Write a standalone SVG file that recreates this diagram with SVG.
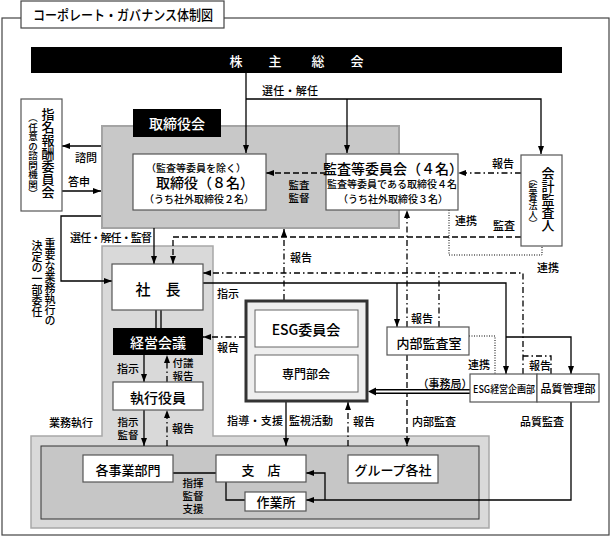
<svg xmlns="http://www.w3.org/2000/svg" width="611" height="537" viewBox="0 0 611 537">
<defs>
<style>
text{font-family:"Noto Sans CJK JP","Noto Sans CJK SC",sans-serif;font-weight:500;fill:#000;text-anchor:middle;dominant-baseline:central}
.w{fill:#fff}
.l{font-size:11px}
.k{font-size:10.5px}
.m{font-size:13px}
.b{font-size:14px}
.v{writing-mode:vertical-rl;text-anchor:start}
.box{fill:#fff;stroke:#555;stroke-width:1.2}
.blk{fill:#000}
.c{fill:none;stroke:#000;stroke-width:1.3}
.dash{stroke-dasharray:6 3}
.dd{stroke-dasharray:6 3 1.5 3}
.dot{stroke-width:1;stroke-dasharray:1 1.5}
</style>
<marker id="a" viewBox="0 0 8 6" refX="8" refY="3" markerWidth="8" markerHeight="6" markerUnits="userSpaceOnUse" orient="auto" preserveAspectRatio="none"><path d="M0,0 L8,3 L0,6 z" fill="#000"/></marker>
</defs>
<g id="frame">
<rect x="2" y="18" width="607" height="517" fill="#fff" stroke="#444" stroke-width="1.2"/>
<rect x="21" y="1" width="203" height="27" fill="#fff" stroke="#444" stroke-width="1.2"/>
<text x="123" y="14" style="font-size:14px" textLength="180" lengthAdjust="spacingAndGlyphs">コーポレート・ガバナンス体制図</text>
</g>
<g id="areas">
<rect x="102" y="126" width="297" height="102" fill="#c8c8c8" stroke="#a4a4a4" stroke-width="2"/>
<path d="M102,246 H213 V436 H489 V528 H31 V436 H102 Z" fill="#d9d9d9" stroke="#a8a8a8" stroke-width="1.5"/>
<rect x="41" y="446" width="438" height="73" fill="#c6c6c6" stroke="#333" stroke-width="1"/>
</g>
<g id="connectors">
<path class="c" d="M246,73 V153" marker-end="url(#a)"/>
<path class="c" d="M246,99 H541 V154" marker-end="url(#a)"/>
<path class="c" d="M347,99 V153" marker-end="url(#a)"/>
<path class="c" d="M101,146 H62" marker-end="url(#a)"/>
<path class="c" d="M62,191 H101" marker-end="url(#a)"/>
<path class="c dash" d="M326,173 H266" marker-end="url(#a)"/>
<path class="c dd" d="M521,173 H458" marker-end="url(#a)"/>
<path class="c" d="M101,216 H61 V281 H112" marker-end="url(#a)"/>
<path class="c" d="M154,228 V264" marker-end="url(#a)"/>
<path class="c dash" d="M521,237 H173 V264" marker-end="url(#a)"/>
<path class="c dd" d="M284,300 V229" marker-end="url(#a)"/>
<path class="c dd" d="M523,374 V273 H203" marker-end="url(#a)"/>
<path class="c dd" d="M439,327 V273"/>
<path class="c dd" d="M551,374 V356 H523"/>
<path class="c" d="M203,283 H506 V374" marker-end="url(#a)"/>
<path class="c" d="M397,283 V327" marker-end="url(#a)"/>
<path class="c" d="M506,337 H571 V374" marker-end="url(#a)"/>
<path class="c dd" d="M407,327 V210" marker-end="url(#a)"/>
<path class="c dot" d="M449,210 V255 H542 V246"/>
<path class="c dot" d="M469,336 H495 V374"/>
<path class="c dash" d="M407,355 V446" marker-end="url(#a)"/>
<path class="c dd" d="M245,337 H203" marker-end="url(#a)"/>
<path d="M470,391.5 H374" fill="none" stroke="#000" stroke-width="5"/>
<path d="M470,391.5 H376" fill="none" stroke="#fff" stroke-width="2"/>
<path d="M376,387.5 L368,391.5 L376,395.5 z" fill="#000"/>
<path class="c" d="M156,310 V328 M161,310 V328"/>
<path class="c" d="M144,355 V382" marker-end="url(#a)"/>
<path class="c dd" d="M167,382 V355" marker-end="url(#a)"/>
<path class="c" d="M144,410 V446" marker-end="url(#a)"/>
<path class="c dd" d="M167,446 V410" marker-end="url(#a)"/>
<path class="c" d="M286,402 V446" marker-end="url(#a)"/>
<path class="c dd" d="M348,446 V402" marker-end="url(#a)"/>
<path class="c" d="M173,473 H216"/>
<path class="c" d="M226,482 V500 H245"/>
<path class="c" d="M571,402 V500 H306" marker-end="url(#a)"/>
<path class="c" d="M325,500 V473 H306" marker-end="url(#a)"/>
</g>
<g id="labels">
<text class="l" x="290" y="90" textLength="56">選任・解任</text>
<text class="l" x="86" y="157">諮問</text>
<text class="l" x="79" y="181">答申</text>
<text class="k" x="299"><tspan x="299" y="183.5">監査</tspan><tspan x="299" y="196.5">監督</tspan></text>
<text class="l" x="503" y="163">報告</text>
<text class="l" x="466" y="220">連携</text>
<text class="l" x="504" y="225">監査</text>
<text class="l" x="548" y="267">連携</text>
<text class="l" x="111" y="237" textLength="82">選任・解任・監督</text>
<text class="l" x="301" y="257">報告</text>
<text class="l" x="228" y="293">指示</text>
<text class="l" x="228" y="347">報告</text>
<text class="l" x="128" y="368">指示</text>
<text class="k" x="183"><tspan x="183" y="362">付議</tspan><tspan x="183" y="375">報告</tspan></text>
<text class="l" x="71" y="422">業務執行</text>
<text class="k" x="128"><tspan x="128" y="421">指示</tspan><tspan x="128" y="434">監督</tspan></text>
<text class="l" x="183" y="428">報告</text>
<text class="l" x="255" y="420" textLength="56">指導・支援</text>
<text class="l" x="311" y="420">監視活動</text>
<text class="l" x="364" y="421">報告</text>
<text class="l" x="434" y="421">内部監査</text>
<text class="l" x="542" y="421">品質監査</text>
<text class="l" x="422" y="318">報告</text>
<text class="l" x="479" y="364">連携</text>
<text class="l" x="540" y="365">報告</text>
<text class="l" x="445" y="383">（事務局）</text>
<text class="k" x="193"><tspan x="193" y="482">指揮</tspan><tspan x="193" y="495">監督</tspan><tspan x="193" y="508">支援</tspan></text>
<text class="l v" x="50" y="238">重要な業務執行の</text>
<text class="l v" x="37" y="240">決定の一部委任</text>
</g>
<g id="n-shareholders">
<rect x="31" y="47" width="531" height="26" class="blk"/>
<text class="m w" x="236" y="60">株</text>
<text class="m w" x="275" y="60">主</text>
<text class="m w" x="318" y="60">総</text>
<text class="m w" x="357" y="60">会</text>
</g>
<g id="n-board-label">
<rect x="133" y="109" width="88" height="28" class="blk"/>
<text class="b w" x="177" y="123">取締役会</text>
</g>
<g id="n-nomination">
<rect x="21" y="99" width="41" height="112" class="box"/>
<text class="m v" x="48" y="108">指名報酬委員会</text>
<text class="v" style="font-size:9.5px" x="33" y="113">（任意の諮問機関）</text>
</g>
<g id="n-directors">
<rect x="133" y="154" width="133" height="56" class="box"/>
<text x="199"><tspan style="font-size:10px" x="196" y="167">（監査等委員を除く）</tspan><tspan style="font-size:14px" x="205" y="182">取締役（８名）</tspan><tspan style="font-size:10px" x="199" y="198">（うち社外取締役２名）</tspan></text>
</g>
<g id="n-audit-committee">
<rect x="326" y="154" width="132" height="56" class="box"/>
<text x="393"><tspan style="font-size:14px" x="393" y="168">監査等委員会（４名）</tspan><tspan style="font-size:10px" x="392" y="183">監査等委員である取締役４名</tspan><tspan style="font-size:10px" x="393" y="198">（うち社外取締役３名）</tspan></text>
</g>
<g id="n-accounting-auditor">
<rect x="521" y="155" width="41" height="91" class="box"/>
<text class="m v" x="548" y="167">会計監査人</text>
<text class="v" style="font-size:9px" x="533" y="174">（監査法人）</text>
</g>
<g id="n-president">
<rect x="112" y="264" width="91" height="46" class="box"/>
<text style="font-size:15px" x="158" y="288">社　長</text>
</g>
<g id="n-mgmt-meeting">
<rect x="113" y="328" width="90" height="27" class="blk"/>
<text class="b w" x="158" y="342">経営会議</text>
</g>
<g id="n-officers">
<rect x="113" y="382" width="90" height="28" class="box"/>
<text class="b" x="158" y="397">執行役員</text>
</g>
<g id="n-esg">
<rect x="246" y="301" width="121" height="100" fill="#eee" stroke="#333" stroke-width="3"/>
<rect x="255" y="310" width="103" height="37" fill="#fff" stroke="#666" stroke-width="1"/>
<text class="b" x="306" y="329">ESG委員会</text>
<rect x="255" y="355" width="103" height="37" fill="#fff" stroke="#666" stroke-width="1"/>
<text style="font-size:12px" x="306" y="373">専門部会</text>
</g>
<g id="n-internal-audit">
<rect x="387" y="327" width="82" height="28" class="box"/>
<text class="m" x="429" y="342">内部監査室</text>
</g>
<g id="n-esg-planning">
<rect x="470" y="374" width="67" height="28" class="box"/>
<text style="font-size:10px" x="504" y="388" textLength="62" lengthAdjust="spacingAndGlyphs">ESG経営企画部</text>
</g>
<g id="n-quality">
<rect x="537" y="374" width="62" height="28" class="box"/>
<text style="font-size:11px" x="568" y="388">品質管理部</text>
</g>
<g id="n-divisions">
<rect x="83" y="455" width="90" height="27" class="box"/>
<text class="m" x="128" y="469">各事業部門</text>
</g>
<g id="n-branch">
<rect x="216" y="455" width="90" height="27" class="box"/>
<text class="m" x="261" y="469">支　店</text>
</g>
<g id="n-site">
<rect x="245" y="492" width="61" height="19" class="box"/>
<text class="m" x="276" y="501">作業所</text>
</g>
<g id="n-group">
<rect x="348" y="455" width="90" height="28" class="box"/>
<text class="m" x="393" y="469">グループ各社</text>
</g>
</svg>
